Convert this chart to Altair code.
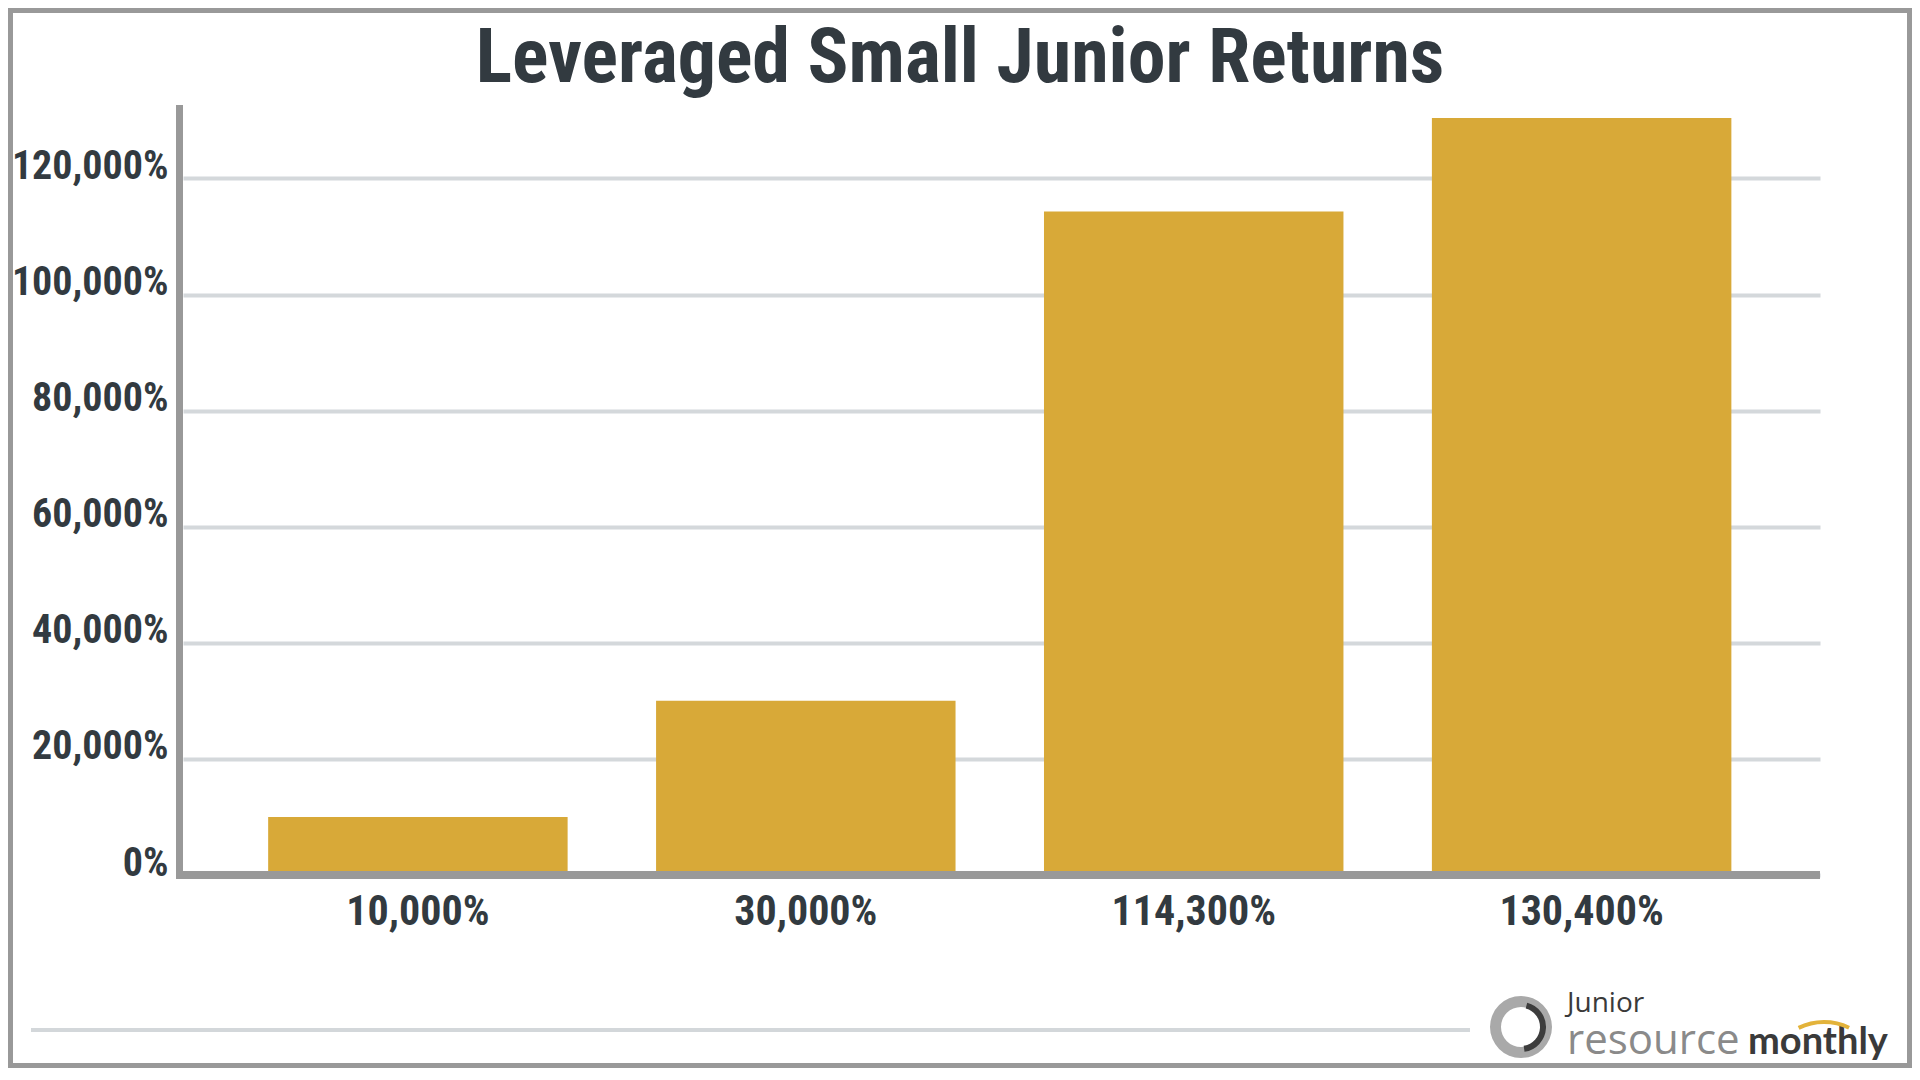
import altair as alt
import pandas as pd

# ---- data ----
categories = ["10,000%", "30,000%", "114,300%", "130,400%"]
values = [10000, 30000, 114300, 130400]
y_ticks = [0, 20000, 40000, 60000, 80000, 100000, 120000]
title_text = "Leveraged Small Junior Returns"
logo_top = "Junior"
logo_left = "resource"
logo_right = "monthly"

# ---- layout ----
W, H = 1637, 770
TOTAL_W, TOTAL_H = 1904, 1060
PAD = dict(left=175, top=97, right=TOTAL_W - 175 - W, bottom=TOTAL_H - 97 - H)
FONT = "Roboto Condensed, Open Sans Condensed, sans-serif"
DARK = "#323a40"
BAR = "#d8a938"
AXIS_GRAY = "#999999"

df = pd.DataFrame({"cat": categories, "val": values})
one = pd.DataFrame({"k": [0]})

x = alt.X(
    "cat:N",
    sort=categories,
    scale=alt.Scale(paddingInner=0.228, paddingOuter=0.224, align=0.49),
    axis=alt.Axis(
        title=None, labelAngle=0, domain=False, ticks=False, tickSize=0, grid=False,
        labelPadding=16, labelFontSize=42, labelFont=FONT, labelFontWeight="bold",
        labelColor=DARK, labelOverlap=False, labelLimit=0,
    ),
)
y = alt.Y(
    "val:Q",
    scale=alt.Scale(domain=[0, 132650], nice=False, zero=True),
    axis=alt.Axis(
        title=None, values=y_ticks, labelExpr="format(datum.value, ',') + '%'",
        domain=False, ticks=False, tickSize=0, grid=True, gridColor="#d4d8db",
        gridWidth=4, labelPadding=15, labelBaseline="alphabetic", labelAlign="right",
        labelFontSize=40, labelFont=FONT, labelFontWeight="bold", labelColor=DARK,
        labelOverlap=False, labelLimit=0,
    ),
)

bars = alt.Chart(df).mark_bar(color=BAR).encode(x=x, y=y)

yline = alt.Chart(one).mark_rule(color=AXIS_GRAY, strokeWidth=7).encode(
    x=alt.value(-3.5), y=alt.value(0), y2=alt.value(H + 4)
)
xline = alt.Chart(one).mark_rule(color=AXIS_GRAY, strokeWidth=8).encode(
    x=alt.value(-7), x2=alt.value(W), y=alt.value(H)
)

title = alt.Chart(one).mark_text(
    text=title_text, fontSize=76, font=FONT, fontWeight="bold", color=DARK,
    align="center", baseline="alphabetic",
).encode(x=alt.value(777), y=alt.value(-23))

border = alt.Chart(one).mark_rect(
    fillOpacity=0, stroke=AXIS_GRAY, strokeWidth=5
).encode(
    x=alt.value(-175 + 2.5), x2=alt.value(TOTAL_W - 175 - 2.5),
    y=alt.value(-97 + 2.5), y2=alt.value(TOTAL_H - 97 - 2.5),
)

bottom_line = alt.Chart(one).mark_rule(color="#d3d7da", strokeWidth=4).encode(
    x=alt.value(-152), x2=alt.value(1287), y=alt.value(925)
)

ring = alt.Chart(one).mark_arc(color="#a9a9a9").encode(
    x=alt.value(1338), y=alt.value(922), theta=alt.value(0), theta2=alt.value(6.2832),
    radius=alt.value(31), radius2=alt.value(20),
)
crescent = alt.Chart(one).mark_arc(color="#3d3d3d").encode(
    x=alt.value(1338), y=alt.value(922), theta=alt.value(0.25), theta2=alt.value(3.0),
    radius=alt.value(25), radius2=alt.value(19),
)
logo_junior = alt.Chart(one).mark_text(
    text=logo_top, fontSize=28, font="Open Sans", color="#3a3a3a",
    align="left", baseline="alphabetic",
).encode(x=alt.value(1384), y=alt.value(907))
logo_res = alt.Chart(one).mark_text(
    text=logo_left, fontSize=42, font="Open Sans", color="#8a8a8a",
    align="left", baseline="alphabetic",
).encode(x=alt.value(1384), y=alt.value(949))
logo_mon = alt.Chart(one).mark_text(
    text=logo_right, fontSize=38, font="Lato", fontWeight="bold", color="#3a3a3a",
    align="left", baseline="alphabetic",
).encode(x=alt.value(1565), y=alt.value(949))
swoosh = alt.Chart(one).mark_arc(color="#e3b33a").encode(
    x=alt.value(1641), y=alt.value(975), theta=alt.value(5.83), theta2=alt.value(6.73),
    radius=alt.value(60), radius2=alt.value(56),
)

chart = alt.layer(
    border, bottom_line, bars, yline, xline, title,
    ring, crescent, logo_junior, logo_res, logo_mon, swoosh,
).properties(
    width=W, height=H, padding=PAD, autosize=alt.AutoSizeParams(type="none"),
    background="white",
).configure_view(strokeWidth=0)

chart.save("out.html", embed_options={"renderer": "svg", "actions": False})
